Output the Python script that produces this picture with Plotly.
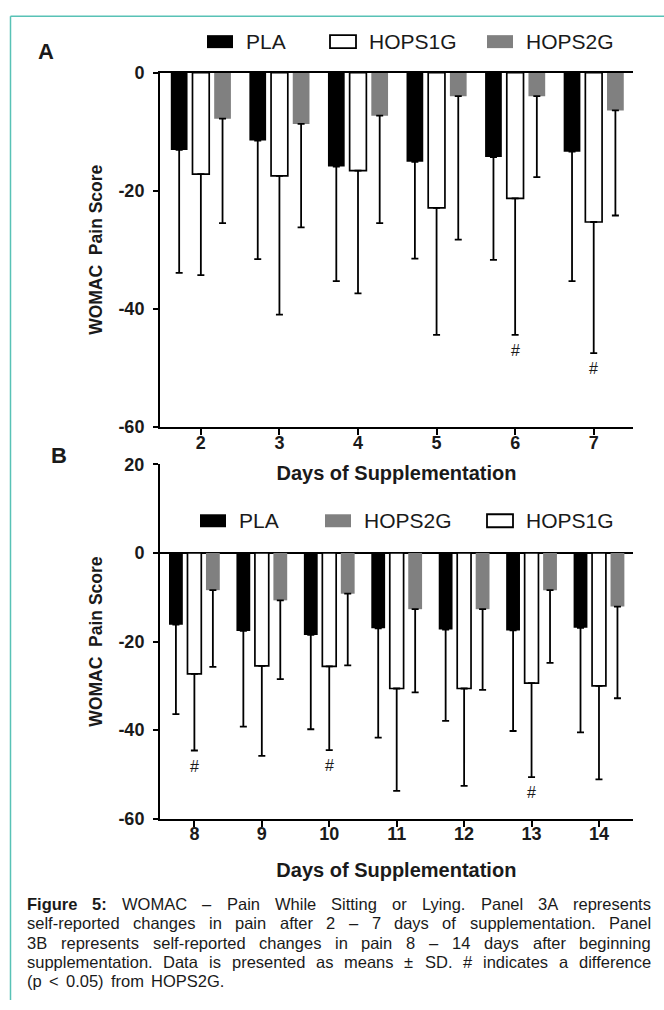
import plotly.graph_objects as go

# ---------------- data ----------------
series = ["PLA", "HOPS1G", "HOPS2G"]

days_a = [2, 3, 4, 5, 6, 7]
pla_a_mean = [-13.1, -11.5, -15.9, -15.1, -14.3, -13.4]
pla_a_sd = [20.8, 20.1, 19.4, 16.4, 17.4, 21.9]
h1_a_mean = [-17.2, -17.5, -16.6, -22.9, -21.3, -25.3]
h1_a_sd = [17.1, 23.5, 20.8, 21.5, 23.1, 22.2]
h2_a_mean = [-7.8, -8.7, -7.3, -4.0, -4.0, -6.4]
h2_a_sd = [17.7, 17.5, 18.2, 24.3, 13.7, 17.8]
sig_a_days = [6, 7]

days_b = [8, 9, 10, 11, 12, 13, 14]
pla_b_mean = [-16.2, -17.6, -18.5, -17.0, -17.3, -17.5, -16.9]
pla_b_sd = [20.2, 21.6, 21.3, 24.7, 20.6, 22.7, 23.6]
h1_b_mean = [-27.3, -25.5, -25.6, -30.6, -30.6, -29.4, -30.0]
h1_b_sd = [17.3, 20.3, 18.9, 23.1, 22.0, 21.2, 21.1]
h2_b_mean = [-8.4, -10.7, -9.2, -12.7, -12.7, -8.4, -12.1]
h2_b_sd = [17.3, 17.8, 16.2, 18.8, 18.2, 16.4, 20.7]
sig_b_days = [8, 10, 13]

yticks_a = [-60, -40, -20, 0]
yticks_b = [-60, -40, -20, 0, 20]

legend_order_a = ["PLA", "HOPS1G", "HOPS2G"]
legend_order_b = ["PLA", "HOPS2G", "HOPS1G"]

x_title = "Days of Supplementation"
y_title = "WOMAC  Pain Score"

caption_lines = [
    "**Figure **5: WOMAC – Pain While Sitting or Lying. Panel 3A represents",
    "self-reported changes in pain after 2 – 7 days of supplementation. Panel",
    "3B represents self-reported changes in pain 8 – 14 days after beginning",
    "supplementation. Data is presented as means ± SD. # indicates a difference",
    "(p < 0.05) from HOPS2G.",
]

# ---------------- style ----------------
W, H = 664, 1010
SY, OY = 0.982, 8.8   # vertical page -> picture correction
FONT = "Liberation Sans, Arial, sans-serif"
TXT = "#1a1a1a"
fill = {"PLA": "#000000", "HOPS1G": "#ffffff", "HOPS2G": "#808080"}
edge = {"PLA": 0, "HOPS1G": 1.7, "HOPS2G": 0}
slot_idx = {"PLA": -1, "HOPS1G": 0, "HOPS2G": 1}


def px_x(v):
    return v / W


def px_y(v):
    return 1 - ((v - OY) / SY) / H


fig = go.Figure()

panels = [
    dict(x="x", y="y", days=days_a,
         data={"PLA": (pla_a_mean, pla_a_sd), "HOPS1G": (h1_a_mean, h1_a_sd),
               "HOPS2G": (h2_a_mean, h2_a_sd)},
         slot=0.276, bw=0.213, sig=sig_a_days),
    dict(x="x2", y="y2", days=days_b,
         data={"PLA": (pla_b_mean, pla_b_sd), "HOPS1G": (h1_b_mean, h1_b_sd),
               "HOPS2G": (h2_b_mean, h2_b_sd)},
         slot=0.274, bw=0.205, sig=sig_b_days),
]

annotations = []
for p in panels:
    for s in series:
        m, sd = p["data"][s]
        fig.add_trace(go.Bar(
            x=p["days"], y=m, name=s, xaxis=p["x"], yaxis=p["y"],
            width=p["bw"], offset=slot_idx[s] * p["slot"] - p["bw"] / 2,
            marker=dict(color=fill[s], line=dict(color="black", width=edge[s])),
            error_y=dict(type="data", symmetric=False, array=[0] * len(m),
                         arrayminus=sd, color="black", thickness=1.8, width=3.5),
            showlegend=False, hoverinfo="x+y",
        ))
    m, sd = p["data"]["HOPS1G"]
    for d in p["sig"]:
        i = p["days"].index(d)
        annotations.append(dict(
            x=d, y=m[i] - sd[i], xref=p["x"], yref=p["y"], text="#",
            showarrow=False, yanchor="top", yshift=-5,
            font=dict(family=FONT, size=16, color=TXT)))

tickfont = dict(family=FONT, size=18, color=TXT, weight="bold")
xtitlefont = dict(family=FONT, size=20, color=TXT, weight="bold")
ytitlefont = dict(family=FONT, size=17.5, color=TXT, weight="bold")
common_x = dict(showline=True, linewidth=2, linecolor="black", ticks="outside",
                ticklen=6, tickwidth=2, tickcolor="black", showgrid=False,
                zeroline=False, tickfont=tickfont, tickmode="array",
                ticklabelstandoff=-8)
common_y = dict(showline=True, linewidth=2, linecolor="black", ticks="outside",
                ticklen=5, tickwidth=2, tickcolor="black", showgrid=False,
                tickfont=tickfont, tickmode="array", ticklabelstandoff=5)

fig.update_layout(
    width=W, height=H, autosize=False,
    margin=dict(l=0, r=0, t=0, b=0),
    paper_bgcolor="white", plot_bgcolor="white",
    barmode="overlay",
    xaxis=dict(domain=[px_x(160), px_x(633)], range=[1.48, 7.5], anchor="y",
               tickvals=days_a, ticktext=[str(d) for d in days_a], mirror=True,
               title=dict(text=x_title, font=xtitlefont, standoff=14), **common_x),
    yaxis=dict(domain=[px_y(426.5), px_y(71.5)], range=[-60, 0], anchor="x",
               tickvals=yticks_a, ticktext=[str(v) for v in yticks_a],
               zeroline=False,
               title=dict(text=y_title, font=ytitlefont, standoff=11), **common_y),
    xaxis2=dict(domain=[px_x(160), px_x(632.7)], range=[7.49, 14.5], anchor="y2",
                tickvals=days_b, ticktext=[str(d) for d in days_b],
                title=dict(text=x_title, font=xtitlefont, standoff=20), **common_x),
    yaxis2=dict(domain=[px_y(819), px_y(464)], range=[-60, 20], anchor="x2",
                tickvals=yticks_b, ticktext=[str(v) for v in yticks_b],
                zeroline=True, zerolinecolor="black", zerolinewidth=2,
                title=dict(text=y_title, font=ytitlefont, standoff=11), **common_y),
)

# panel letters
for lab, cx, cy in [("A", 46, 50.5), ("B", 58.8, 455)]:
    annotations.append(dict(x=px_x(cx), y=px_y(cy), xref="paper", yref="paper",
                            text=lab, showarrow=False, xanchor="center",
                            yanchor="middle",
                            font=dict(family=FONT, size=22, color=TXT, weight="bold")))

# custom legends (swatch + label)
shapes = []
leg_pos = [
    (legend_order_a, [207, 330, 487], 40.5),
    (legend_order_b, [200, 325, 487], 520.5),
]
for order, xs, cy in leg_pos:
    for s, x0 in zip(order, xs):
        lw = 1.8 if s == "HOPS1G" else 0
        shapes.append(dict(type="rect", xref="paper", yref="paper",
                           x0=px_x(x0), x1=px_x(x0 + 26), y0=px_y(cy + 6.5),
                           y1=px_y(cy - 6.5), fillcolor=fill[s],
                           line=dict(color="black", width=lw)))
        annotations.append(dict(x=px_x(x0 + 38), y=px_y(cy), xref="paper",
                                yref="paper", text=s, showarrow=False,
                                xanchor="left", yanchor="middle", borderpad=0,
                                font=dict(family=FONT, size=21, color=TXT)))

# frame (top and left edges only, kept inside the page)
frame = dict(color="#58c2b6", width=1.5)
shapes.append(dict(type="line", xref="paper", yref="paper", x0=px_x(10.5),
                   x1=1, y0=px_y(15), y1=px_y(15), layer="below", line=frame))
shapes.append(dict(type="line", xref="paper", yref="paper", x0=px_x(10.5),
                   x1=px_x(10.5), y0=0, y1=px_y(15), layer="below", line=frame))

# justified caption, Arial/Liberation metrics
REG = {' ': 278, '.': 278, ':': 278, '-': 333, '–': 556, '±': 584, '#': 556,
       '(': 333, ')': 333, '<': 584, ',': 278,
       'A': 667, 'B': 667, 'C': 722, 'D': 722, 'G': 778, 'H': 722, 'L': 556,
       'M': 833, 'O': 778, 'P': 667, 'S': 667, 'W': 944, 'F': 611,
       'a': 556, 'b': 556, 'c': 500, 'd': 556, 'e': 556, 'f': 278, 'g': 556,
       'h': 556, 'i': 222, 'j': 222, 'k': 500, 'l': 222, 'm': 833, 'n': 556,
       'o': 556, 'p': 556, 'q': 556, 'r': 333, 's': 500, 't': 278, 'u': 556,
       'v': 500, 'w': 722, 'x': 500, 'y': 500, 'z': 500}
BOLD = {' ': 278, 'F': 611, 'i': 278, 'g': 611, 'u': 611, 'r': 389, 'e': 556,
        '5': 556, ':': 333}
CFS = 16.5
CAP_L, CAP_R = 26, 650
cap_y = [904.5, 923.7, 943.2, 962.5, 982]


def tw(word, bold):
    tab = BOLD if bold else REG
    return sum(tab.get(ch, 556) for ch in word) / 1000 * CFS


for li, (line, cy) in enumerate(zip(caption_lines, cap_y)):
    words = []
    for w in line.split(" "):
        if w.startswith("**"):
            words.append((w.strip("*"), True))
        elif "**" in w:
            a, b = w.split("**")
            words.append((a + b, True))
        else:
            words.append((w, False))
    widths = [tw(w, b) for w, b in words]
    last = li == len(caption_lines) - 1
    if last or len(words) < 2:
        gap = REG[' '] / 1000 * CFS * 1.6
    else:
        gap = (CAP_R - CAP_L - sum(widths)) / (len(words) - 1)
    x = CAP_L
    for (w, b), wd in zip(words, widths):
        f = dict(family=FONT, size=CFS, color=TXT)
        if b:
            f["weight"] = "bold"
        annotations.append(dict(x=px_x(x), y=px_y(cy), xref="paper", yref="paper",
                                text=w, showarrow=False, xanchor="left",
                                yanchor="middle", borderpad=0, font=f))
        x += wd + gap

fig.update_layout(annotations=annotations, shapes=shapes)
fig.write_html("out.html", config={"displayModeBar": False},
               post_script="document.body.style.margin='0';"
                           "document.body.style.overflow='hidden';")
